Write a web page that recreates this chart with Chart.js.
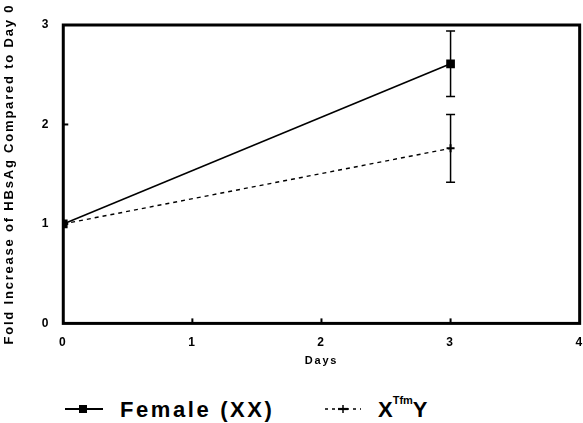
<!DOCTYPE html>
<html>
<head>
<meta charset="utf-8">
<script src="https://cdn.jsdelivr.net/npm/chart.js@4"></script>
<style>
  body { margin: 0; background: #fff; overflow: hidden; width: 583px; height: 423px; position: relative; }
  #wrap { position: relative; width: 587px; height: 368px; }
  .lg { position: absolute; font-family: "Liberation Sans", Arial, sans-serif; font-weight: bold;
        font-size: 22px; line-height: 22px; color: #000; white-space: nowrap; }
  .sym { position: absolute; }
  sup { font-size: 11px; line-height: 0; vertical-align: 13px; letter-spacing: 0; }
</style>
</head>
<body>
<div id="wrap"><canvas id="chart"></canvas></div>
<svg class="sym" style="left:64px; top:402px" width="40" height="14"><line x1="1" y1="7" x2="39" y2="7" stroke="#000" stroke-width="2"/><rect x="15" y="3" width="8" height="8" fill="#000"/></svg>
<span class="lg" style="left:120px; top:399px; letter-spacing:2.6px">Female (XX)</span>
<svg class="sym" style="left:324px; top:402px" width="38" height="14"><line x1="1" y1="7" x2="37" y2="7" stroke="#000" stroke-width="1.4" stroke-dasharray="3,4"/><line x1="19" y1="3" x2="19" y2="11" stroke="#000" stroke-width="1.5"/><line x1="14" y1="7" x2="24" y2="7" stroke="#000" stroke-width="2.2"/></svg>
<span class="lg" style="left:378px; top:399px">X<sup>Tfm</sup>Y</span>
<script>
document.addEventListener('DOMContentLoaded', function () {
    // data
    const days = [0, 3];
    const femaleMeans = [1, 2.61];
    const femaleErr = [0, 0.33];
    const xtfmMeans = [1, 1.76];
    const xtfmErr = [0, 0.34];
    const xTicks = [0, 1, 2, 3, 4];
    const yTicks = [0, 1, 2, 3];

    const toPoints = (ys) => days.map((d, i) => ({ x: d, y: ys[i] }));

    // frame, inner ticks and error bars
    const framePlugin = {
        id: 'frame',
        beforeDraw(chart) {
            chart.ctx.letterSpacing = '1.8px';
        },
        afterDatasetsDraw(chart) {
            const ctx = chart.ctx;
            const a = chart.chartArea;
            const xs = chart.scales.x;
            const ys = chart.scales.y;
            ctx.save();
            ctx.strokeStyle = '#000';
            ctx.lineWidth = 3;
            ctx.strokeRect(a.left, a.top, a.right - a.left, a.bottom - a.top);

            ctx.lineWidth = 2;
            xTicks.slice(1, -1).forEach(t => {
                const px = xs.getPixelForValue(t);
                ctx.beginPath();
                ctx.moveTo(px, a.bottom);
                ctx.lineTo(px, a.bottom - 5);
                ctx.stroke();
            });
            yTicks.slice(1, -1).forEach(t => {
                const py = ys.getPixelForValue(t);
                ctx.beginPath();
                ctx.moveTo(a.left, py);
                ctx.lineTo(a.left + 5, py);
                ctx.stroke();
            });

            // error bars
            ctx.lineWidth = 1.5;
            [[femaleMeans, femaleErr], [xtfmMeans, xtfmErr]].forEach(([means, errs]) => {
                days.forEach((d, i) => {
                    if (!errs[i]) return;
                    const px = xs.getPixelForValue(d);
                    const top = ys.getPixelForValue(means[i] + errs[i]);
                    const bot = ys.getPixelForValue(means[i] - errs[i]);
                    ctx.beginPath();
                    ctx.moveTo(px, top);
                    ctx.lineTo(px, bot);
                    ctx.moveTo(px - 4.5, top);
                    ctx.lineTo(px + 4.5, top);
                    ctx.moveTo(px - 4.5, bot);
                    ctx.lineTo(px + 4.5, bot);
                    ctx.stroke();
                });
            });
            ctx.restore();
        }
    };

    const font = { family: '"Liberation Sans", Arial, sans-serif', weight: 'bold' };

    new Chart(document.getElementById('chart'), {
        type: 'line',
        data: {
            datasets: [
                {
                    label: 'XTfmY',
                    data: toPoints(xtfmMeans),
                    borderColor: '#000',
                    backgroundColor: '#000',
                    borderWidth: 1.4,
                    borderDash: [4, 4],
                    pointStyle: 'cross',
                    pointRadius: 4,
                    pointBorderWidth: 2
                },
                {
                    label: 'Female (XX)',
                    data: toPoints(femaleMeans),
                    borderColor: '#000',
                    backgroundColor: '#000',
                    borderWidth: 1.6,
                    pointStyle: 'rect',
                    pointRadius: 5
                }
            ]
        },
        options: {
            responsive: true,
            maintainAspectRatio: false,
            animation: false,
            layout: { padding: { top: 25, right: 0, left: 0, bottom: 0 } },
            plugins: { legend: { display: false }, tooltip: { enabled: false } },
            scales: {
                x: {
                    type: 'linear',
                    min: 0,
                    max: 4,
                    grid: { display: false },
                    border: { display: false },
                    ticks: { stepSize: 1, color: '#000', font: { ...font, size: 12 }, padding: 4 },
                    title: { display: true, text: 'Days', color: '#000', font: { ...font, size: 11 }, padding: { top: 1, bottom: 0 } }
                },
                y: {
                    min: 0,
                    max: 3,
                    grid: { display: false },
                    border: { display: false },
                    ticks: { stepSize: 1, color: '#000', font: { ...font, size: 12 }, padding: 5 },
                    title: { display: true, text: 'Fold Increase of HBsAg Compared to Day 0', color: '#000', font: { ...font, size: 13 }, padding: { top: 2, bottom: 21 } }
                }
            }
        },
        plugins: [framePlugin]
    });
});
</script>
</body>
</html>
